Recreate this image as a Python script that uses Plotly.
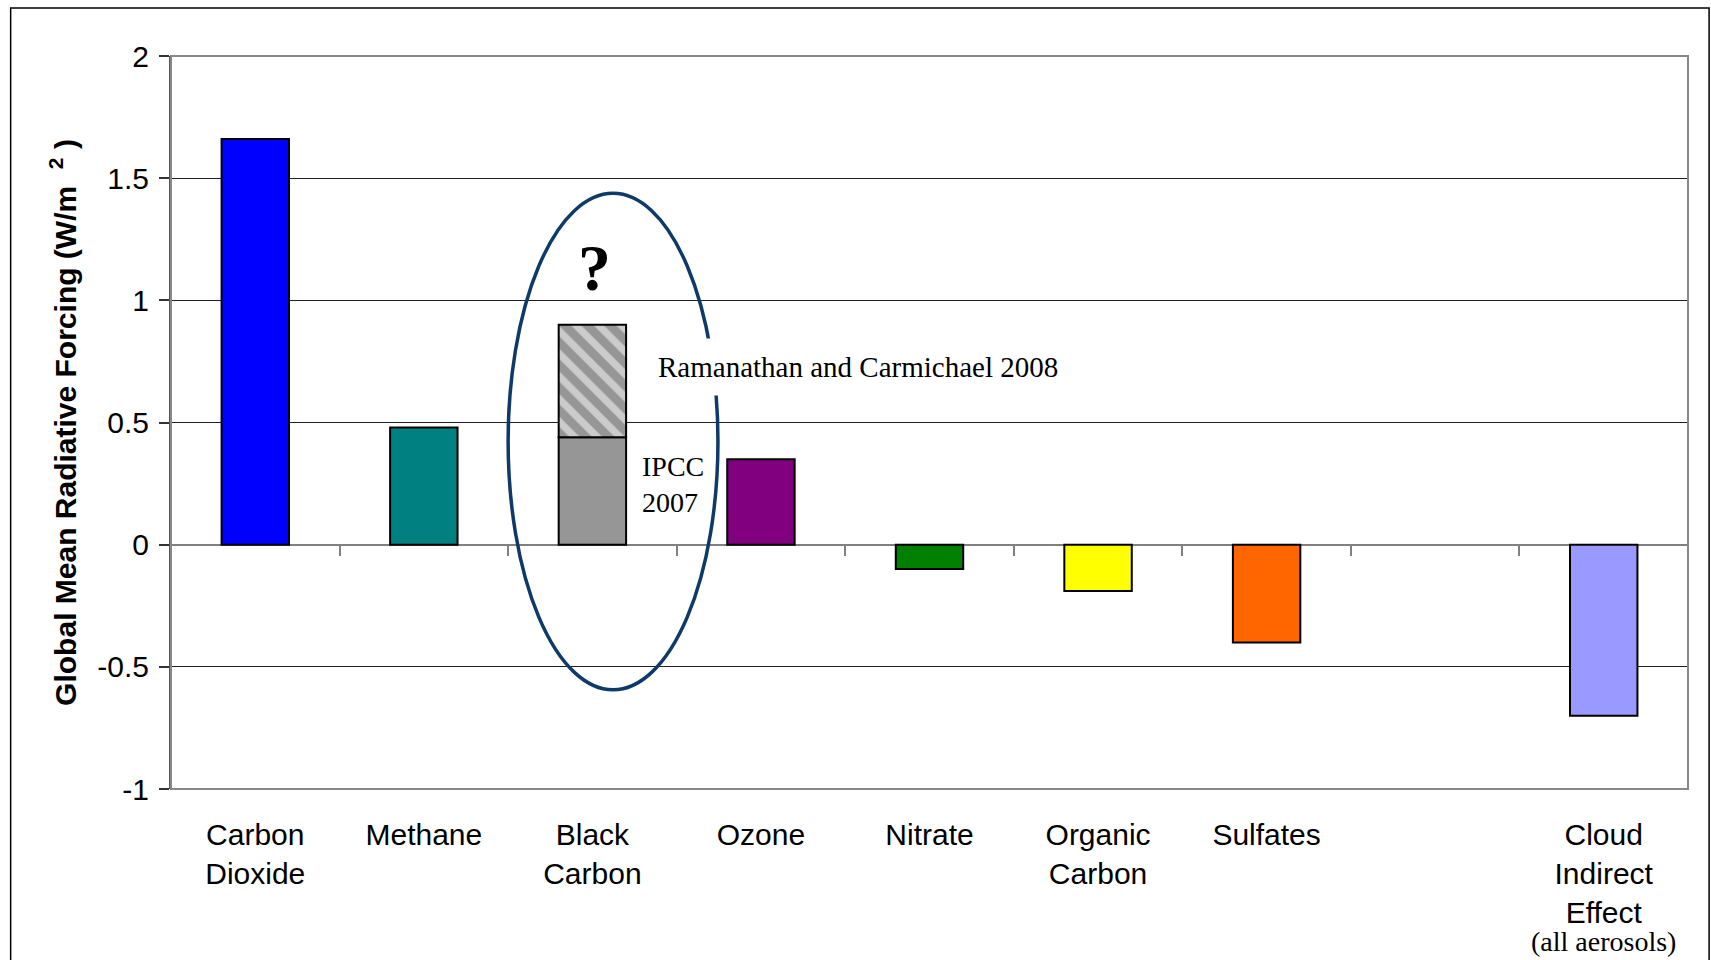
import plotly.graph_objects as go

# Radiative forcing by agent (W/m^2)
categories = ["Carbon<br>Dioxide", "Methane", "Black<br>Carbon", "Ozone", "Nitrate",
              "Organic<br>Carbon", "Sulfates", " ", "Cloud<br>Indirect<br>Effect"]
agents = ["Carbon<br>Dioxide", "Methane", "Black<br>Carbon", "Ozone", "Nitrate",
          "Organic<br>Carbon", "Sulfates", "Cloud<br>Indirect<br>Effect"]
forcing_ipcc = [1.66, 0.48, 0.44, 0.35, -0.10, -0.19, -0.40, -0.70]
bar_colors = ["#0000FF", "#008080", "#969696", "#800080", "#008000",
              "#FFFF00", "#FF6600", "#9999FF"]
bc_ramanathan = 0.90
y_ticks = [-1, -0.5, 0, 0.5, 1, 1.5, 2]

SANS = "Liberation Sans, Arial, sans-serif"
SERIF = "Liberation Serif, Times New Roman, serif"

fig = go.Figure()

fig.add_trace(go.Bar(
    x=agents, y=forcing_ipcc,
    marker=dict(color=bar_colors, line=dict(color="black", width=2)),
    showlegend=False, hoverinfo="x+y",
))

# Extra black-carbon forcing from Ramanathan and Carmichael, stacked on IPCC value
bc_idx = agents.index("Black<br>Carbon")
fig.add_trace(go.Bar(
    x=[agents[bc_idx]], y=[bc_ramanathan - forcing_ipcc[bc_idx]],
    marker=dict(color="#969696", line=dict(color="black", width=2),
                pattern=dict(shape="\\", fgcolor="white", bgcolor="#969696",
                             size=16, solidity=0.45)),
    showlegend=False, hoverinfo="x+y",
))

# Invisible trace so the tick-only axis at y = 0 is drawn
fig.add_trace(go.Scatter(x=[0], y=[0], xaxis="x2", mode="markers",
                         marker=dict(opacity=0), showlegend=False, hoverinfo="skip"))

fig.update_layout(
    width=1711, height=960,
    margin=dict(l=171, r=23, t=56, b=171),
    paper_bgcolor="white", plot_bgcolor="white",
    barmode="relative", bargap=0.6,
    font=dict(family=SANS, size=30, color="black"),
    xaxis=dict(
        type="category", categoryorder="array", categoryarray=categories,
        range=[-0.5, len(categories) - 0.5],
        showgrid=False, zeroline=False, showline=False,
        ticks="", ticklabelstandoff=25,
        tickfont=dict(family=SANS, size=30, color="black"),
        fixedrange=True,
    ),
    xaxis2=dict(
        overlaying="x", anchor="free", position=1 / 3,
        range=[-0.5, len(categories) - 0.5],
        tickvals=[i + 0.5 for i in range(len(categories))],
        ticks="outside", ticklen=10, tickwidth=1.5, tickcolor="#808080",
        showticklabels=False, showgrid=False, zeroline=False, showline=False,
    ),
    yaxis=dict(
        range=[-1, 2], tickvals=y_ticks,
        ticktext=[f"{v:g}" for v in y_ticks],
        showgrid=True, gridcolor="#202020", gridwidth=1,
        zeroline=True, zerolinecolor="#808080", zerolinewidth=2,
        showline=True, linecolor="#555555", linewidth=2,
        ticks="outside", ticklen=10, tickwidth=1.5, tickcolor="#333333",
        ticklabelstandoff=4,
        tickfont=dict(family=SANS, size=30, color="black"),
        title=dict(text="<b>Global Mean Radiative Forcing (W/m  <sup>2</sup> )</b>",
                   font=dict(family=SANS, size=30, color="black"), standoff=12),
        fixedrange=True,
    ),
)

# Plot-area border and outer frame
fig.add_shape(type="rect", xref="paper", yref="paper", x0=0, x1=1, y0=0, y1=1,
              line=dict(color="#888888", width=2), layer="above")
fig.add_shape(type="rect", xref="paper", yref="paper",
              x0=-0.1057, x1=1.0139, y0=-0.26, y1=1.0656,
              line=dict(color="black", width=1.5), layer="below")

# Ellipse around the black-carbon estimates
fig.add_shape(type="circle", xref="x", yref="y",
              x0=1.50, x1=2.745, y0=-0.594, y1=1.438,
              line=dict(color="#0E3A6A", width=3.5), layer="above")

fig.add_annotation(x=2.013, y=1.134, xref="x", yref="y", text="<b>?</b>",
                   showarrow=False, font=dict(family=SERIF, size=66, color="black"))
fig.add_annotation(x=2.383, y=0.728, xref="x", yref="y",
                   text="Ramanathan and Carmichael 2008", showarrow=False,
                   xanchor="left", xshift=-12, bgcolor="white", borderpad=12,
                   font=dict(family=SERIF, size=29, color="black"))
fig.add_annotation(x=2.285, y=0.2455, xref="x", yref="y",
                   text="IPCC<br>2007", showarrow=False, xanchor="left", align="left",
                   font=dict(family=SERIF, size=28, color="black"))
fig.add_annotation(x=8, y=-0.208, xref="x", yref="paper", yanchor="middle",
                   text="(all aerosols)", showarrow=False,
                   font=dict(family=SERIF, size=28, color="black"))

fig.write_html("out.html")
